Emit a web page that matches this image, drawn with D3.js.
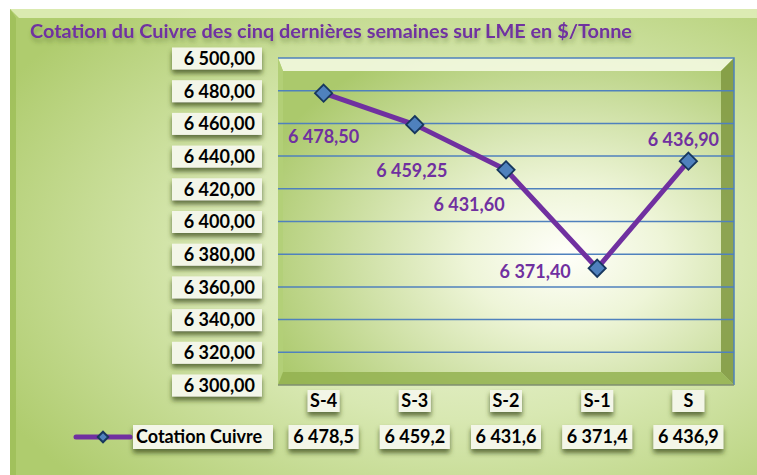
<!DOCTYPE html>
<html>
<head>
<meta charset="utf-8">
<script src="https://cdn.jsdelivr.net/npm/d3@7"></script>
<style>
  body { margin: 0; background: #fff; }
  svg { display: block; font-family: Lato, "Open Sans", sans-serif; }
</style>
</head>
<body>
<svg id="chart" width="757" height="475"></svg>
<script>
// données
const title = 'Cotation du Cuivre des cinq dernières semaines sur LME en $/Tonne';
const seriesName = 'Cotation Cuivre';
const categories = ['S-4', 'S-3', 'S-2', 'S-1', 'S'];
const prices = [6478.50, 6459.25, 6431.60, 6371.40, 6436.90];
const tableLabels = ['6 478,5', '6 459,2', '6 431,6', '6 371,4', '6 436,9'];
const yTicks = [6300, 6320, 6340, 6360, 6380, 6400, 6420, 6440, 6460, 6480, 6500];

const W = 757, H = 475;
const plot = { left: 278, top: 58, right: 734, bottom: 385 };
const purple = '#7030A0';
const gridBlue = '#4F81BD';

// décalage des étiquettes par rapport aux points
const labelOffsets = [[0, 44], [-3, 46], [-37, 35], [-62, 3], [-5, -21]];

const fr = d3.formatLocale({ decimal: ',', thousands: ' ', grouping: [3], currency: ['', ' $'] });
const fmt2 = fr.format(',.2f');

const svg = d3.select('#chart');
const defs = svg.append('defs');

// fond extérieur
const bgGrad = defs.append('radialGradient').attr('id', 'bgGrad')
  .attr('cx', '62%').attr('cy', '52%').attr('r', '72%');
bgGrad.append('stop').attr('offset', '0%').attr('stop-color', '#F3F8E4');
bgGrad.append('stop').attr('offset', '50%').attr('stop-color', '#D8E8B2');
bgGrad.append('stop').attr('offset', '100%').attr('stop-color', '#AFCC6E');

const plotGrad = defs.append('radialGradient').attr('id', 'plotGrad')
  .attr('cx', '63%').attr('cy', '60%').attr('r', '72%');
plotGrad.append('stop').attr('offset', '0%').attr('stop-color', '#FFFFFA');
plotGrad.append('stop').attr('offset', '30%').attr('stop-color', '#EEF5D8');
plotGrad.append('stop').attr('offset', '100%').attr('stop-color', '#ABC96C');

const shadow = defs.append('filter').attr('id', 'shadow')
  .attr('x', '-20%').attr('y', '-30%').attr('width', '140%').attr('height', '190%');
shadow.append('feDropShadow').attr('dx', 0).attr('dy', 4).attr('stdDeviation', 2.5)
  .attr('flood-color', '#3a4a1a').attr('flood-opacity', 0.75);

const textShadow = defs.append('filter').attr('id', 'textShadow')
  .attr('x', '-10%').attr('y', '-30%').attr('width', '120%').attr('height', '190%');
textShadow.append('feDropShadow').attr('dx', 1).attr('dy', 4).attr('stdDeviation', 2)
  .attr('flood-color', '#556b2f').attr('flood-opacity', 0.45);

// cadre extérieur avec biseau
const ox = 10, oy = 9, bev = 9;
svg.append('rect').attr('x', ox).attr('y', oy).attr('width', W - ox).attr('height', H - oy)
  .attr('fill', 'url(#bgGrad)');
svg.append('polygon')
  .attr('points', [[ox, oy], [W, oy], [W, oy + bev], [ox + bev, oy + bev]].join(' '))
  .attr('fill', '#E2EEBC').attr('opacity', 0.85);
svg.append('polygon')
  .attr('points', [[ox, oy], [ox + bev - 3, oy + bev], [ox + bev - 3, H], [ox, H]].join(' '))
  .attr('fill', '#9DBE58').attr('opacity', 0.8);

// titre
svg.append('text')
  .attr('x', 30).attr('y', 38)
  .attr('fill', purple)
  .attr('font-size', 18).attr('font-weight', 700)
  .attr('textLength', 602).attr('lengthAdjust', 'spacingAndGlyphs')
  .attr('filter', 'url(#textShadow)')
  .text(title);

// échelles
const x = d3.scaleBand().domain(categories).range([plot.left, plot.right]);
const y = d3.scaleLinear().domain([yTicks[0], yTicks[yTicks.length - 1]]).range([plot.bottom, plot.top]);

// zone de tracé avec biseau
const pw = plot.right - plot.left, ph = plot.bottom - plot.top, pb = 13;
const pg = svg.append('g');
pg.append('rect').attr('x', plot.left).attr('y', plot.top).attr('width', pw).attr('height', ph)
  .attr('fill', 'url(#plotGrad)');
const L = plot.left, T = plot.top, R = plot.right, B = plot.bottom;
pg.append('polygon').attr('points', [[L, T], [R, T], [R - pb, T + pb], [L + 5, T + pb]].join(' '))
  .attr('fill', '#F4F9E2').attr('opacity', 0.9);
pg.append('polygon').attr('points', [[L, T], [L + 5, T + pb], [L + 5, B - pb], [L, B]].join(' '))
  .attr('fill', '#B3CF78').attr('opacity', 0.9);
pg.append('polygon').attr('points', [[R, T], [R, B], [R - pb, B - pb], [R - pb, T + pb]].join(' '))
  .attr('fill', '#7F9840').attr('opacity', 0.85);
pg.append('polygon').attr('points', [[L, B], [R, B], [R - pb, B - pb], [L + 5, B - pb]].join(' '))
  .attr('fill', '#93B150').attr('opacity', 0.85);

// grille
pg.selectAll('line.grid')
  .data(yTicks.slice(1, -1))
  .join('line')
  .attr('class', 'grid')
  .attr('x1', plot.left).attr('x2', plot.right)
  .attr('y1', d => y(d)).attr('y2', d => y(d))
  .attr('stroke', gridBlue).attr('stroke-width', 1.5);

// bordure haut/droite
pg.append('path')
  .attr('d', `M${L},${T}H${R}V${B}`)
  .attr('fill', 'none').attr('stroke', gridBlue).attr('stroke-width', 1.5);
pg.append('line').attr('x1', L).attr('x2', R).attr('y1', B).attr('y2', B)
  .attr('stroke', '#7F8F70').attr('stroke-width', 1.5);

// axe Y
const yAxis = svg.append('g')
  .attr('transform', 'translate(255,0)')
  .call(d3.axisLeft(y).tickValues(yTicks).tickFormat(fmt2).tickSize(0).tickPadding(0));
yAxis.select('.domain').remove();
yAxis.selectAll('.tick').insert('rect', 'text')
  .attr('x', -83).attr('y', -11).attr('width', 90).attr('height', 22)
  .attr('fill', '#F3F6E8').attr('filter', 'url(#shadow)');
yAxis.selectAll('.tick text')
  .attr('fill', '#000').attr('font-size', 18).attr('font-weight', 700)
  .attr('font-family', 'Lato, sans-serif').attr('dy', '0.35em');

// libellés des catégories
const xAxis = svg.append('g')
  .attr('transform', `translate(0,${plot.bottom + 16})`)
  .call(d3.axisBottom(x).tickSize(0).tickPadding(0));
xAxis.select('.domain').remove();
xAxis.selectAll('.tick').insert('rect', 'text')
  .attr('x', -16).attr('y', -11).attr('width', 32).attr('height', 22)
  .attr('fill', '#F3F6E8').attr('filter', 'url(#shadow)');
xAxis.selectAll('.tick text')
  .attr('y', 0).attr('dy', '0.35em')
  .attr('fill', '#000').attr('font-size', 18).attr('font-weight', 700)
  .attr('font-family', 'Lato, sans-serif');

// tableau de données
const rowY = 437;
const table = svg.append('g');
const cells = table.selectAll('g.cell')
  .data(categories.map((c, i) => ({ c, label: tableLabels[i] })))
  .join('g')
  .attr('class', 'cell')
  .attr('transform', d => `translate(${x(d.c) + x.bandwidth() / 2},${rowY})`);
cells.append('rect')
  .attr('x', -35).attr('y', -12).attr('width', 70).attr('height', 24)
  .attr('fill', '#F3F6E8').attr('filter', 'url(#shadow)');
cells.append('text')
  .attr('text-anchor', 'middle').attr('dy', '0.35em')
  .attr('font-size', 18).attr('font-weight', 700).attr('fill', '#000')
  .text(d => d.label);

// légende
const leg = table.append('g');
leg.append('rect').attr('x', 133).attr('y', rowY - 12).attr('width', 140).attr('height', 24)
  .attr('fill', '#F3F6E8').attr('filter', 'url(#shadow)');
leg.append('line').attr('x1', 76).attr('x2', 130).attr('y1', rowY).attr('y2', rowY)
  .attr('stroke', purple).attr('stroke-width', 5).attr('stroke-linecap', 'round');
leg.append('path')
  .attr('d', d3.symbol(d3.symbolDiamond2, 70)())
  .attr('transform', `translate(103,${rowY})`)
  .attr('fill', gridBlue).attr('stroke', '#17375E').attr('stroke-width', 2);
leg.append('text').attr('x', 136).attr('y', rowY).attr('dy', '0.35em')
  .attr('font-size', 18).attr('font-weight', 700).attr('fill', '#000')
  .text(seriesName);

// série
const pts = prices.map((v, i) => ({ cat: categories[i], v, i }));
const cx = d => x(d.cat) + x.bandwidth() / 2;

svg.append('path')
  .datum(pts)
  .attr('d', d3.line().x(cx).y(d => y(d.v)))
  .attr('fill', 'none').attr('stroke', purple).attr('stroke-width', 5)
  .attr('stroke-linejoin', 'round');

svg.selectAll('path.marker')
  .data(pts)
  .join('path')
  .attr('class', 'marker')
  .attr('d', d3.symbol(d3.symbolDiamond2, 190)())
  .attr('transform', d => `translate(${cx(d)},${y(d.v)})`)
  .attr('fill', gridBlue).attr('stroke', '#17375E').attr('stroke-width', 1.8);

svg.selectAll('text.dlabel')
  .data(pts)
  .join('text')
  .attr('class', 'dlabel')
  .attr('x', d => cx(d) + labelOffsets[d.i][0])
  .attr('y', d => y(d.v) + labelOffsets[d.i][1])
  .attr('dy', '0.35em')
  .attr('text-anchor', 'middle')
  .attr('font-size', 18).attr('font-weight', 700).attr('fill', purple)
  .text(d => fmt2(d.v));
</script>
</body>
</html>
